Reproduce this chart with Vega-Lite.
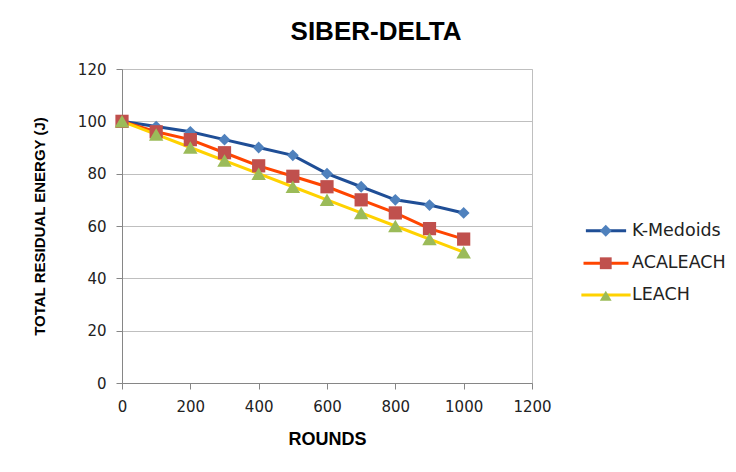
{
  "$schema": "https://vega.github.io/schema/vega-lite/v6.json",
  "width": 410,
  "height": 314,
  "autosize": {"type": "none"},
  "padding": {"left": 122, "top": 69, "right": 204, "bottom": 89},
  "background": "white",
  "title": {
    "text": "SIBER-DELTA",
    "font": "Liberation Sans",
    "fontSize": 26,
    "fontWeight": "bold",
    "color": "#000000",
    "anchor": "middle",
    "dx": 49,
    "offset": 17
  },
  "data": {
    "values": [
      {"series": "K-Medoids", "rounds": 0, "energy": 100},
      {"series": "K-Medoids", "rounds": 100, "energy": 98},
      {"series": "K-Medoids", "rounds": 200, "energy": 96},
      {"series": "K-Medoids", "rounds": 300, "energy": 93},
      {"series": "K-Medoids", "rounds": 400, "energy": 90},
      {"series": "K-Medoids", "rounds": 500, "energy": 87},
      {"series": "K-Medoids", "rounds": 600, "energy": 80},
      {"series": "K-Medoids", "rounds": 700, "energy": 75},
      {"series": "K-Medoids", "rounds": 800, "energy": 70},
      {"series": "K-Medoids", "rounds": 900, "energy": 68},
      {"series": "K-Medoids", "rounds": 1000, "energy": 65},
      {"series": "ACALEACH", "rounds": 0, "energy": 100},
      {"series": "ACALEACH", "rounds": 100, "energy": 96},
      {"series": "ACALEACH", "rounds": 200, "energy": 93},
      {"series": "ACALEACH", "rounds": 300, "energy": 88},
      {"series": "ACALEACH", "rounds": 400, "energy": 83},
      {"series": "ACALEACH", "rounds": 500, "energy": 79},
      {"series": "ACALEACH", "rounds": 600, "energy": 75},
      {"series": "ACALEACH", "rounds": 700, "energy": 70},
      {"series": "ACALEACH", "rounds": 800, "energy": 65},
      {"series": "ACALEACH", "rounds": 900, "energy": 59},
      {"series": "ACALEACH", "rounds": 1000, "energy": 55},
      {"series": "LEACH", "rounds": 0, "energy": 100},
      {"series": "LEACH", "rounds": 100, "energy": 95},
      {"series": "LEACH", "rounds": 200, "energy": 90},
      {"series": "LEACH", "rounds": 300, "energy": 85},
      {"series": "LEACH", "rounds": 400, "energy": 80},
      {"series": "LEACH", "rounds": 500, "energy": 75},
      {"series": "LEACH", "rounds": 600, "energy": 70},
      {"series": "LEACH", "rounds": 700, "energy": 65},
      {"series": "LEACH", "rounds": 800, "energy": 60},
      {"series": "LEACH", "rounds": 900, "energy": 55},
      {"series": "LEACH", "rounds": 1000, "energy": 50}
    ]
  },
  "encoding": {
    "x": {
      "field": "rounds",
      "type": "quantitative",
      "scale": {"domain": [0, 1200], "nice": false},
      "axis": {
        "title": "ROUNDS",
        "values": [0, 200, 400, 600, 800, 1000, 1200],
        "format": "d",
        "grid": false,
        "domainColor": "#868686",
        "tickColor": "#868686",
        "tickSize": 6,
        "labelPadding": 10,
        "labelFont": "DejaVu Sans",
        "labelFontSize": 15,
        "labelColor": "#222222",
        "labelFlush": false,
        "titleFont": "Liberation Sans",
        "titleFontSize": 18,
        "titleFontWeight": "bold",
        "titleColor": "#000000",
        "titlePadding": 16
      }
    },
    "y": {
      "field": "energy",
      "type": "quantitative",
      "scale": {"domain": [0, 120], "nice": false},
      "axis": {
        "title": "TOTAL RESIDUAL ENERGY (J)",
        "values": [0, 20, 40, 60, 80, 100, 120],
        "grid": true,
        "gridColor": "#BFBFBF",
        "domainColor": "#868686",
        "tickColor": "#868686",
        "tickSize": 6,
        "labelPadding": 10,
        "labelFont": "DejaVu Sans",
        "labelFontSize": 15,
        "labelColor": "#222222",
        "labelFlush": false,
        "titleFont": "Liberation Sans",
        "titleFontSize": 15,
        "titleFontWeight": "bold",
        "titleColor": "#000000",
        "titlePadding": 30
      }
    }
  },
  "layer": [
    {
      "mark": {"type": "line", "strokeWidth": 3},
      "encoding": {
        "color": {
          "field": "series",
          "type": "nominal",
          "scale": {
            "domain": ["K-Medoids", "ACALEACH", "LEACH"],
            "range": ["#1F4E96", "#FF4500", "#FFD200"]
          },
          "legend": {
            "title": null,
            "orient": "none",
            "legendX": 475,
            "legendY": 153,
            "symbolType": "M-3.4,0H3.4",
            "symbolSize": 140,
            "symbolStrokeWidth": 3,
            "labelOffset": 17,
            "labelFont": "DejaVu Sans",
            "labelFontSize": 17.5,
            "labelColor": "#222222",
            "rowPadding": 13.5,
            "padding": 0
          }
        }
      }
    },
    {
      "mark": {"type": "point", "filled": true, "opacity": 1},
      "encoding": {
        "fill": {
          "field": "series",
          "type": "nominal",
          "scale": {
            "domain": ["K-Medoids", "ACALEACH", "LEACH", " "],
            "range": ["#4F81BD", "#C0504D", "#9BBB59", "#ffffff"]
          },
          "legend": {
            "title": null,
            "orient": "none",
            "legendX": 475,
            "legendY": 153,
            "values": ["K-Medoids", "ACALEACH", "LEACH"],
            "symbolSize": 140,
            "symbolStrokeWidth": 0,
            "symbolOpacity": 1,
            "labelOffset": 17,
            "labelOpacity": 0,
            "labelFont": "DejaVu Sans",
            "labelFontSize": 17.5,
            "rowPadding": 13.5,
            "padding": 0
          }
        },
        "shape": {
          "field": "series",
          "type": "nominal",
          "scale": {
            "domain": ["K-Medoids", "ACALEACH", "LEACH", " "],
            "range": ["diamond", "square", "triangle-up", "circle"]
          },
          "legend": {
            "title": null,
            "orient": "none",
            "legendX": 475,
            "legendY": 153,
            "values": ["K-Medoids", "ACALEACH", "LEACH"],
            "symbolSize": 140,
            "labelOpacity": 0,
            "labelOffset": 17,
            "labelFont": "DejaVu Sans",
            "labelFontSize": 17.5,
            "rowPadding": 13.5,
            "padding": 0
          }
        },
        "size": {
          "field": "series",
          "type": "nominal",
          "scale": {
            "domain": ["K-Medoids", "ACALEACH", "LEACH"],
            "range": [140, 210, 220]
          },
          "legend": null
        }
      }
    }
  ],
  "config": {
    "view": {"stroke": "#BFBFBF", "strokeWidth": 1}
  }
}
